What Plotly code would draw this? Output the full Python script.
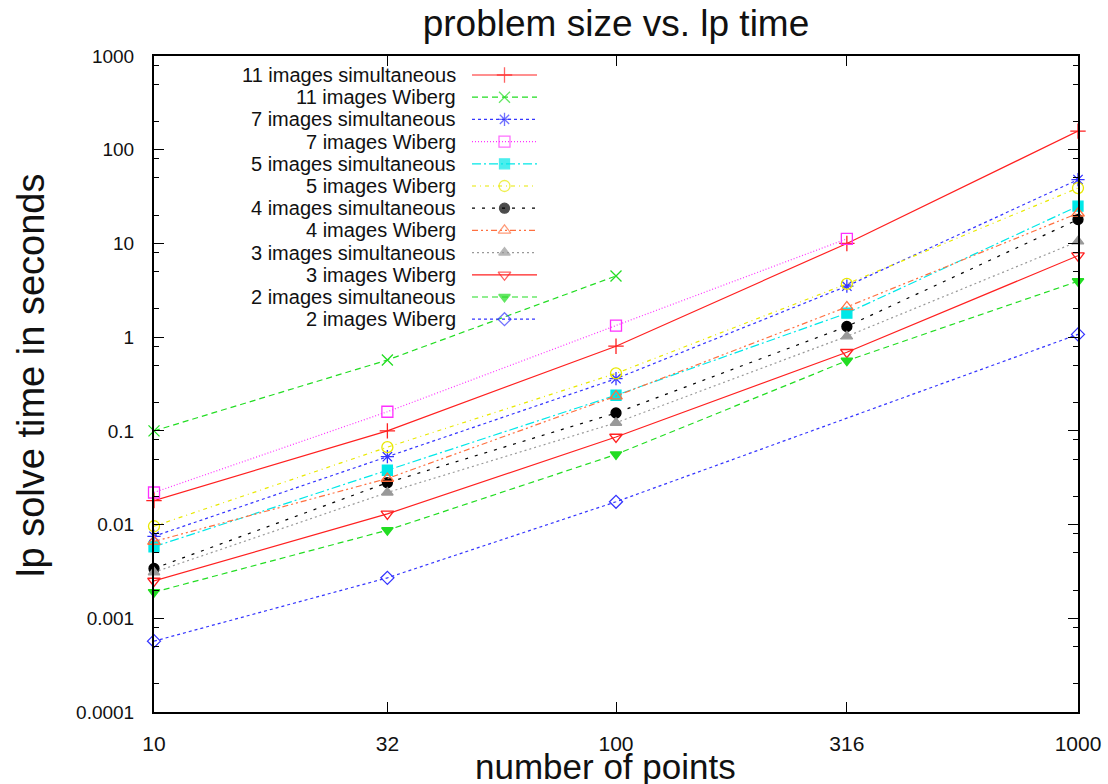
import plotly.graph_objects as go

# ---------------- data ----------------
x_ticks = [10, 32, 100, 316, 1000]
x_ticktext = ["10", "32", "100", "316", "1000"]
y_ticks = [0.0001, 0.001, 0.01, 0.1, 1, 10, 100, 1000]
y_ticktext = ["0.0001", "0.001", "0.01", "0.1", "1", "10", "100", "1000"]

names = [
    "11 images simultaneous", "11 images Wiberg",
    "7 images simultaneous", "7 images Wiberg",
    "5 images simultaneous", "5 images Wiberg",
    "4 images simultaneous", "4 images Wiberg",
    "3 images simultaneous", "3 images Wiberg",
    "2 images simultaneous", "2 images Wiberg",
]

sim11_x = [10, 32, 100, 316, 1000]
sim11_y = [0.018, 0.10, 0.80, 10.0, 158]
wib11_x = [10, 32, 100]
wib11_y = [0.10, 0.57, 4.5]
sim7_x = [10, 32, 100, 316, 1000]
sim7_y = [0.0075, 0.053, 0.36, 3.5, 48]
wib7_x = [10, 32, 100, 316]
wib7_y = [0.022, 0.16, 1.33, 11.2]
sim5_x = [10, 32, 100, 316, 1000]
sim5_y = [0.0058, 0.038, 0.24, 1.8, 25]
wib5_x = [10, 32, 100, 316, 1000]
wib5_y = [0.0096, 0.067, 0.41, 3.7, 39]
sim4_x = [10, 32, 100, 316, 1000]
sim4_y = [0.0034, 0.028, 0.155, 1.3, 18]
wib4_x = [10, 32, 100, 316, 1000]
wib4_y = [0.0066, 0.031, 0.235, 2.1, 21]
sim3_x = [10, 32, 100, 316, 1000]
sim3_y = [0.0031, 0.022, 0.122, 1.02, 10.5]
wib3_x = [10, 32, 100, 316, 1000]
wib3_y = [0.0025, 0.013, 0.086, 0.69, 7.4]
sim2_x = [10, 32, 100, 316, 1000]
sim2_y = [0.0019, 0.0087, 0.056, 0.56, 3.95]
wib2_x = [10, 32, 100, 1000]
wib2_y = [0.00057, 0.0027, 0.0175, 1.07]

series_x = [sim11_x, wib11_x, sim7_x, wib7_x, sim5_x, wib5_x,
            sim4_x, wib4_x, sim3_x, wib3_x, sim2_x, wib2_x]
series_y = [sim11_y, wib11_y, sim7_y, wib7_y, sim5_y, wib5_y,
            sim4_y, wib4_y, sim3_y, wib3_y, sim2_y, wib2_y]

# ---------------- styles ----------------
colors = ["#ff2020", "#22dd22", "#3535ff", "#ff30ff", "#00e8e8", "#e8e800",
          "#000000", "#ff7040", "#999999", "#ff2020", "#22dd22", "#3535ff"]
dashes = ["solid", "6px,4px", "3px,3px", "1px,2px", "9px,3px,2px,3px", "4px,4px,1px,4px",
          "3px,7px", "6px,3px,2px,3px,2px,3px", "2px,3px", "solid", "6px,4px", "3px,3px"]
symbols = ["cross-thin-open", "x-thin-open", "asterisk-open", "square-open", "square", "circle-open",
           "circle", "triangle-up-open", "triangle-up", "triangle-down-open", "triangle-down", "diamond-open"]
msizes = [11, 11, 11, 11, 10, 11, 10, 11, 10, 11, 10, 10]

FONT = "Liberation Sans, Arial, sans-serif"
TXT = "#111111"

fig = go.Figure()

for i in range(len(names)):
    fig.add_trace(go.Scatter(
        x=series_x[i], y=series_y[i], mode="lines+markers", name=names[i],
        showlegend=False, cliponaxis=False,
        line=dict(color=colors[i], width=1.2, dash=dashes[i]),
        marker=dict(symbol=symbols[i], size=msizes[i], color=colors[i],
                    line=dict(color=colors[i], width=1.3)),
    ))

# ---------------- manual gnuplot-style legend ----------------
L, R, T, B = 154, 30, 56, 72
W, H = 1108, 784
pw, ph = W - L - R, H - T - B
row0_px, row_step = 75, 22.2
samp_x0, samp_x1, text_x = 472, 537, 457
for i in range(len(names)):
    yp = row0_px + i * row_step
    yf = (H - B - yp) / ph
    xa = (samp_x0 - L) / pw
    xb = (samp_x1 - L) / pw
    fig.add_trace(go.Scatter(
        x=[xa, (xa + xb) / 2, xb], y=[yf, yf, yf], xaxis="x2", yaxis="y2",
        mode="lines+markers", showlegend=False, hoverinfo="skip",
        line=dict(color=colors[i], width=1.2, dash=dashes[i]),
        marker=dict(symbol=symbols[i], size=[0, msizes[i], 0], color=colors[i],
                    line=dict(color=colors[i], width=1.3)),
    ))
    fig.add_annotation(x=(text_x - L) / pw, y=yf, xref="x2", yref="y2",
                       text=names[i], showarrow=False, xanchor="right", yanchor="middle",
                       borderpad=0,
                       font=dict(family=FONT, size=20, color=TXT))

# axis titles as paper-positioned annotations
fig.add_annotation(x=(605 - L) / pw, y=-(767 - (H - B)) / ph, xref="paper", yref="paper",
                   text="number of points", showarrow=False, xanchor="center", yanchor="middle",
                   borderpad=0,
                   font=dict(family=FONT, size=35, color=TXT))
fig.add_annotation(x=-(L - 31) / pw, y=(H - B - 376) / ph, xref="paper", yref="paper",
                   text="lp solve time in seconds", showarrow=False, textangle=-90,
                   xanchor="center", yanchor="middle",
                   font=dict(family=FONT, size=38, color=TXT))

minor_vals = []
for d in [0.0001, 0.001, 0.01, 0.1, 1, 10, 100]:
    for m in [2, 5, 8]:
        minor_vals.append(d * m)

fig.update_layout(
    width=W, height=H,
    margin=dict(l=L, r=R, t=T, b=B, autoexpand=False),
    paper_bgcolor="white", plot_bgcolor="white",
    showlegend=False,
    title=dict(text="problem size vs. lp time", x=(L + pw / 2) / W, xanchor="center",
               y=1 - 23 / H, yanchor="middle",
               font=dict(family=FONT, size=37, color=TXT)),
    xaxis=dict(type="log", range=[1, 3], tickvals=x_ticks, ticktext=x_ticktext,
               ticks="inside", ticklen=10, tickwidth=1, tickcolor="black",
               showline=True, linecolor="black", linewidth=2, mirror="ticks",
               showgrid=False, zeroline=False, ticklabelstandoff=12, automargin=False,
               tickfont=dict(family=FONT, size=21, color=TXT)),
    yaxis=dict(type="log", range=[-4, 3], tickvals=y_ticks, ticktext=y_ticktext,
               ticks="inside", ticklen=10, tickwidth=1, tickcolor="black",
               showline=True, linecolor="black", linewidth=2, mirror="ticks",
               showgrid=False, zeroline=False, ticklabelstandoff=14, automargin=False,
               minor=dict(tickvals=minor_vals, ticks="inside", ticklen=5,
                          tickcolor="black", tickwidth=1, showgrid=False),
               tickfont=dict(family=FONT, size=19, color=TXT)),
    xaxis2=dict(overlaying="x", range=[0, 1], visible=False, fixedrange=True),
    yaxis2=dict(overlaying="y", range=[0, 1], visible=False, fixedrange=True),
)

fig.write_html("out.html", config={"displayModeBar": False},
               post_script="document.body.style.margin='0px';")
